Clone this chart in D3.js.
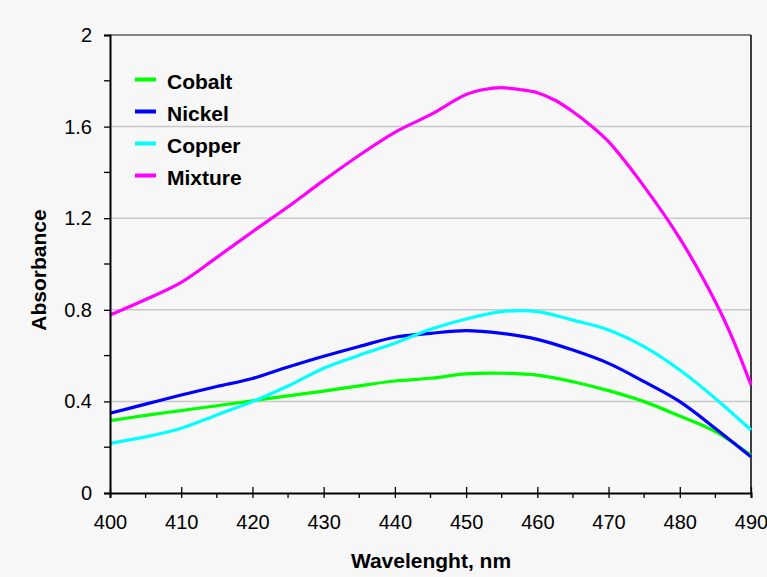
<!DOCTYPE html>
<html>
<head>
<meta charset="utf-8">
<script src="https://cdn.jsdelivr.net/npm/d3@7"></script>
<style>
  html, body { margin: 0; padding: 0; background: #f7f7f7; }
  svg { display: block; }
  text { font-family: "Liberation Sans", Arial, sans-serif; fill: #000; }
</style>
</head>
<body>
<svg id="chart" width="767" height="577"></svg>
<script>
// ---- Data ----
const wavelengths = [400, 405, 410, 415, 420, 425, 430, 435, 440, 445, 450, 455, 460, 465, 470, 475, 480, 485, 490];
const cobalt  = [0.316, 0.339, 0.360, 0.381, 0.403, 0.424, 0.445, 0.468, 0.489, 0.501, 0.520, 0.523, 0.515, 0.486, 0.447, 0.399, 0.336, 0.268, 0.165];
const nickel  = [0.348, 0.388, 0.428, 0.465, 0.500, 0.550, 0.597, 0.640, 0.680, 0.697, 0.709, 0.697, 0.671, 0.624, 0.566, 0.486, 0.399, 0.282, 0.158];
const copper  = [0.217, 0.245, 0.283, 0.341, 0.399, 0.467, 0.545, 0.602, 0.654, 0.715, 0.760, 0.792, 0.792, 0.755, 0.712, 0.639, 0.537, 0.413, 0.275];
const mixtureX = [400, 405, 410, 415, 420, 425, 430, 435, 440, 445, 450, 452.5, 455, 457.5, 460, 462.5, 465, 467.5, 470, 475, 480, 485, 487.5, 490];
const mixture  = [0.777, 0.845, 0.920, 1.029, 1.141, 1.250, 1.365, 1.475, 1.575, 1.652, 1.740, 1.762, 1.770, 1.762, 1.748, 1.715, 1.665, 1.605, 1.534, 1.338, 1.112, 0.835, 0.668, 0.472];
const seriesNames = ["Cobalt", "Nickel", "Copper", "Mixture"];
const seriesColors = ["#00ff00", "#0000ff", "#00ffff", "#ff00ff"];
const yTicks = [0, 0.4, 0.8, 1.2, 1.6, 2];
const yMinorTicks = [0.2, 0.6, 1.0, 1.4, 1.8];
const xTicks = [400, 410, 420, 430, 440, 450, 460, 470, 480, 490];
const xMinorTicks = [405, 415, 425, 435, 445, 455, 465, 475, 485];

const series = [
  { name: "Cobalt",  x: wavelengths, y: cobalt },
  { name: "Nickel",  x: wavelengths, y: nickel },
  { name: "Copper",  x: wavelengths, y: copper },
  { name: "Mixture", x: mixtureX,    y: mixture }
];

// ---- Layout ----
const svg = d3.select("#chart");
const mLeft = 110, mRight = 751, mTop = 35, mBottom = 493;
const x = d3.scaleLinear().domain([400, 490]).range([mLeft, mRight]);
const y = d3.scaleLinear().domain([0, 2]).range([mBottom, mTop]);

// gridlines
svg.append("g").selectAll("line").data(yTicks.filter(d => d > 0 && d < 2)).join("line")
  .attr("x1", mLeft).attr("x2", mRight)
  .attr("y1", d => y(d)).attr("y2", d => y(d))
  .attr("stroke", "#c8c8c8").attr("stroke-width", 1.5);

// top border & right border
svg.append("line").attr("x1", mLeft).attr("x2", mRight).attr("y1", y(2)).attr("y2", y(2))
  .attr("stroke", "#5a5a5a").attr("stroke-width", 1.5);
svg.append("line").attr("x1", mRight).attr("x2", mRight).attr("y1", mTop).attr("y2", mBottom)
  .attr("stroke", "#000").attr("stroke-width", 1.5);

// series lines
const line = d3.line().curve(d3.curveCatmullRom.alpha(0.5));
const gLines = svg.append("g");
series.forEach((s, i) => {
  const pts = s.x.map((xv, j) => [x(xv), y(s.y[j])]);
  gLines.append("path")
    .attr("d", line(pts))
    .attr("fill", "none")
    .attr("stroke", seriesColors[i])
    .attr("stroke-width", 3.2)
    .attr("stroke-linejoin", "round");
});

// axes
const yAxis = d3.axisLeft(y).tickValues(yTicks).tickFormat(d3.format("")).tickSize(6).tickPadding(10);
const gy = svg.append("g").attr("transform", `translate(${mLeft},0)`).call(yAxis);
gy.select(".domain").attr("stroke", "#000").attr("stroke-width", 2);
gy.selectAll(".tick line").attr("stroke", "#000").attr("stroke-width", 1.3);
gy.selectAll(".tick text").style("font-size", "20px").attr("x", -18);
svg.append("g").selectAll("line").data(yMinorTicks).join("line")
  .attr("x1", mLeft - 6).attr("x2", mLeft)
  .attr("y1", d => y(d)).attr("y2", d => y(d))
  .attr("stroke", "#000").attr("stroke-width", 1.3);

const xAxis = d3.axisBottom(x).tickValues(xTicks).tickFormat(d3.format("")).tickSize(5).tickPadding(17);
const gx = svg.append("g").attr("transform", `translate(0,${mBottom})`).call(xAxis);
gx.select(".domain").attr("stroke", "#000").attr("stroke-width", 2);
gx.selectAll(".tick line").attr("y1", -6).attr("stroke", "#000").attr("stroke-width", 1.3);
gx.selectAll(".tick text").style("font-size", "20px");
svg.append("g").selectAll("line").data(xMinorTicks).join("line")
  .attr("x1", d => x(d)).attr("x2", d => x(d))
  .attr("y1", mBottom).attr("y2", mBottom + 5)
  .attr("stroke", "#000").attr("stroke-width", 1.3);

// axis titles
svg.append("text").attr("x", 431).attr("y", 568).attr("text-anchor", "middle")
  .style("font-size", "21px").style("font-weight", "bold").text("Wavelenght, nm");
svg.append("text").attr("transform", "translate(46,270) rotate(-90)").attr("text-anchor", "middle")
  .style("font-size", "21px").style("font-weight", "bold").text("Absorbance");

// legend
const lg = svg.append("g");
seriesNames.forEach((n, i) => {
  const ly = 79.5 + i * 32;
  lg.append("line").attr("x1", 135).attr("x2", 156).attr("y1", ly).attr("y2", ly)
    .attr("stroke", seriesColors[i]).attr("stroke-width", 4);
  lg.append("text").attr("x", 167).attr("y", ly + 9.5).style("font-size", "21px")
    .style("font-weight", "bold").text(n);
});
</script>
</body>
</html>
